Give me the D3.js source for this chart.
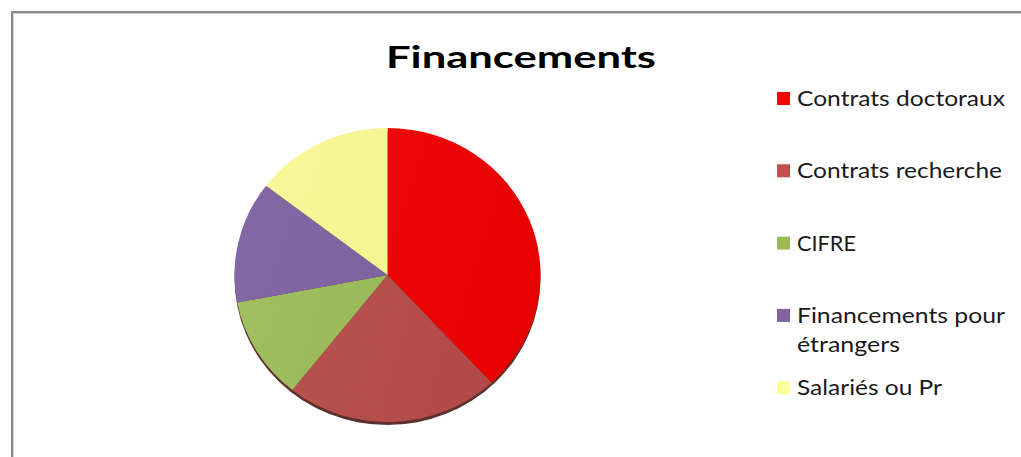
<!DOCTYPE html>
<html>
<head>
<meta charset="utf-8">
<script src="https://cdn.jsdelivr.net/npm/d3@7"></script>
<style>
  html, body { margin: 0; padding: 0; background: #fff; }
  svg { display: block; }
</style>
</head>
<body>
<svg id="chart" width="1021" height="457"></svg>
<script>
// ---- data ----
const title = "Financements";
const categories = ["Contrats doctoraux", "Contrats recherche", "CIFRE", "Financements pour étrangers", "Salariés ou Pr"];
const legendLines = [["Contrats doctoraux"], ["Contrats recherche"], ["CIFRE"], ["Financements pour", "étrangers"], ["Salariés ou Pr"]];
const values = [38.1, 22.6, 11.3, 13.4, 14.6];

// ---- styles ----
const sliceLight = ["#f60c0c", "#bb5552", "#a2c062", "#8468a6", "#f9f799"];
const sliceDark  = ["#e60000", "#b04946", "#93b353", "#7a5e9b", "#f5f28a"];
const legendColors = ["#ff0000", "#c0504d", "#9bbb59", "#8064a2", "#ffff99"];

const svg = d3.select("#chart");
const defs = svg.append("defs");

// chart area border
svg.append("rect").attr("x", 12).attr("y", 12).attr("width", 1030).attr("height", 460)
  .attr("fill", "#fff").attr("stroke", "#8a8a8a").attr("stroke-width", 2);
svg.append("rect").attr("x", 13.5).attr("y", 13.5).attr("width", 1030).attr("height", 460)
  .attr("fill", "none").attr("stroke", "#cfcfcf").attr("stroke-width", 1);

// title
svg.append("text")
  .attr("x", 386).attr("y", 68)
  .attr("font-family", "Lato, 'Open Sans', sans-serif")
  .attr("font-weight", 700)
  .attr("font-size", 31)
  .attr("fill", "#000")
  .attr("textLength", 270)
  .attr("lengthAdjust", "spacingAndGlyphs")
  .text(title);

// pie
const cx = 387.5, cy = 275, r = 147, sx = 153 / 147;
const pie = d3.pie().sort(null).value(d => d)(values);
const arc = d3.arc().innerRadius(0).outerRadius(r);

categories.forEach((c, i) => {
  const g = defs.append("linearGradient").attr("id", "grad" + i)
    .attr("gradientUnits", "userSpaceOnUse")
    .attr("x1", -r).attr("y1", -r * 0.3).attr("x2", r).attr("y2", r * 0.3);
  g.append("stop").attr("offset", "0%").attr("stop-color", sliceLight[i]);
  g.append("stop").attr("offset", "100%").attr("stop-color", sliceDark[i]);
});

const pieG = svg.append("g").attr("transform", `translate(${cx},${cy}) scale(${sx},1)`);

// bevel shadow under pie
pieG.append("circle").attr("cx", 0).attr("cy", 3).attr("r", r)
  .attr("fill", "#4a1a18").attr("opacity", 0.9);

pieG.selectAll("path.slice").data(pie).join("path")
  .attr("class", "slice")
  .attr("d", arc)
  .attr("fill", (d, i) => `url(#grad${i})`);

// legend
const legend = svg.append("g");
const baseY = 106, step = 72.3, lineGap = 29;
legendLines.forEach((lines, i) => {
  const y = baseY + i * step;
  legend.append("rect")
    .attr("x", 777).attr("y", y - 14).attr("width", 13).attr("height", 13)
    .attr("fill", legendColors[i]);
  lines.forEach((ln, j) => {
    legend.append("text")
      .attr("x", 797).attr("y", y + j * lineGap)
      .attr("font-family", "Lato, 'Open Sans', sans-serif")
      .attr("font-size", 21)
      .attr("fill", "#1a1a1a")
      .attr("class", "lg")
      .text(ln);
  });
});

// stretch legend text horizontally to match reference proportions
const targetWidths = {"Contrats doctoraux": 208, "Contrats recherche": 205, "CIFRE": 59, "Financements pour": 208, "étrangers": 103, "Salariés ou Pr": 145};
legend.selectAll("text.lg").each(function() {
  const t = d3.select(this);
  const w = targetWidths[t.text()];
  if (w) t.attr("textLength", w).attr("lengthAdjust", "spacingAndGlyphs");
});
</script>
</body>
</html>
